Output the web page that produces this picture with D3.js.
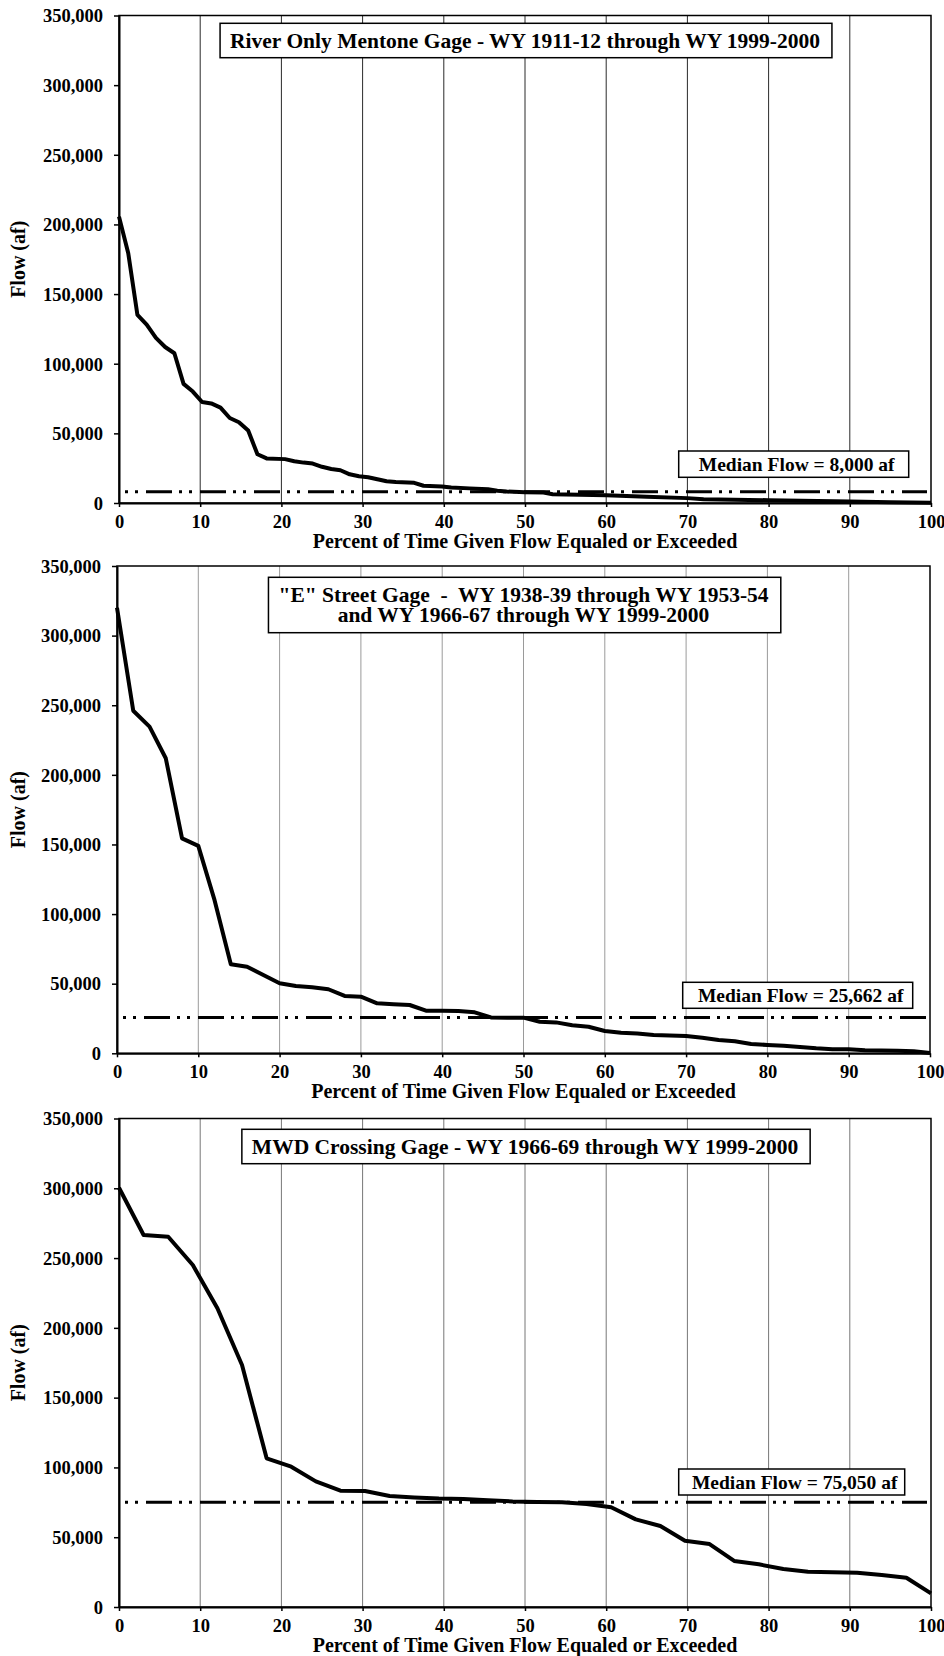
<!DOCTYPE html>
<html lang="en">
<head>
<meta charset="utf-8">
<script src="https://d3js.org/d3.v7.min.js"></script>
<style>
  body { margin: 0; background: #fff; }
  svg text { font-family: "Liberation Serif", "Times New Roman", serif; font-weight: bold; fill: #000; }
</style>
</head>
<body>
<script>
// ---- data ----

// River Only Mentone Gage
let pctMentone  = [0, 1.14, 2.27, 3.41, 4.55, 5.68, 6.82, 7.95, 9.09, 10.23, 11.36, 12.5, 13.64, 14.77, 15.91, 17.05, 18.18, 20.45, 21.59, 22.73, 23.86, 25.0, 26.14, 27.27, 28.41, 29.55, 30.68, 31.82, 32.95, 34.09, 36.36, 37.5, 39.77, 40.91, 43.18, 45.45, 46.59, 47.73, 50.0, 52.27, 53.41, 60, 65, 70, 72, 80, 90, 95, 100];
let flowMentone = [205600, 179300, 135000, 128000, 118500, 112000, 107500, 85500, 80000, 72500, 71500, 68500, 61000, 58000, 52000, 35000, 32000, 31500, 30000, 29000, 28300, 26000, 24400, 23500, 20600, 19200, 18500, 17000, 15600, 15100, 14500, 12400, 11900, 11200, 10500, 9800, 8800, 8200, 7800, 7500, 6300, 5600, 4500, 3500, 2700, 2000, 1000, 600, 100];
let medianMentone = 8000;

// "E" Street Gage
let pctEStreet  = [0, 2, 4, 6, 8, 10, 12, 14, 16, 18, 20, 22, 24, 26, 28, 30, 32, 34, 36, 38, 40, 42, 44, 46, 48, 50, 52, 54, 56, 58, 60, 62, 64, 66, 68, 70, 72, 74, 76, 78, 80, 82, 84, 86, 88, 90, 92, 94, 96, 98, 100];
let flowEStreet = [320000, 246000, 234600, 211900, 154400, 149000, 110000, 63900, 62200, 56200, 50300, 48300, 47400, 46000, 41200, 40700, 35900, 35200, 34700, 30600, 30500, 30400, 29400, 25800, 25600, 25600, 22700, 22200, 20100, 19100, 16000, 14800, 14300, 13100, 12800, 12400, 11200, 9600, 8600, 6700, 6000, 5500, 4600, 3600, 2900, 2900, 2200, 2000, 1900, 1500, 200];
let medianEStreet = 25662;

// MWD Crossing Gage
let pctMWD  = [0, 3.03, 6.06, 9.09, 12.12, 15.15, 18.18, 21.21, 24.24, 27.27, 30.30, 33.33, 36.36, 39.39, 42.42, 45.45, 48.48, 51.52, 54.55, 57.58, 60.61, 63.64, 66.67, 69.70, 72.73, 75.76, 78.79, 81.82, 84.85, 87.88, 90.91, 93.94, 96.97, 100];
let flowMWD = [300400, 266500, 265300, 245000, 214000, 173400, 106500, 100500, 90000, 83300, 83100, 79500, 78500, 77700, 77300, 76500, 75600, 75300, 75000, 73800, 71500, 62800, 58000, 47500, 45100, 33000, 30600, 27200, 25300, 24900, 24600, 22900, 21000, 9800];
let medianMWD = 75050;

let yTicks = [0, 50000, 100000, 150000, 200000, 250000, 300000, 350000];
let xTicks = [0, 10, 20, 30, 40, 50, 60, 70, 80, 90, 100];
let gridTicks = [10, 20, 30, 40, 50, 60, 70, 80, 90];

let xTitle = "Percent of Time Given Flow Equaled or Exceeded";
let yTitle = "Flow (af)";

// ---- layout ----
let W = 944, H = 1656;

let charts = [
  { pct: pctMentone, flow: flowMentone, median: medianMentone,
    title: ["River Only Mentone Gage - WY 1911-12 through WY 1999-2000"],
    medianLabel: "Median Flow = 8,000 af",
    left: 119, right: 931, top: 15.5, bottom: 503,
    titleBox: [23.3, 57.7], medBox: [678.7, 908.7, 451, 477.3], grid: "#2a2a2a" },
  { pct: pctEStreet, flow: flowEStreet, median: medianEStreet,
    title: ["\"E\" Street Gage  -  WY 1938-39 through WY 1953-54", "and WY 1966-67 through WY 1999-2000"],
    medianLabel: "Median Flow = 25,662 af",
    left: 117, right: 930, top: 566, bottom: 1053.3,
    titleBox: [577.3, 632.7], medBox: [682.7, 912.7, 982.3, 1008.3], grid: "#9a9a9a" },
  { pct: pctMWD, flow: flowMWD, median: medianMWD,
    title: ["MWD Crossing Gage - WY 1966-69 through WY 1999-2000"],
    medianLabel: "Median Flow = 75,050 af",
    left: 119, right: 931, top: 1118.5, bottom: 1607,
    titleBox: [1129.3, 1163.7], medBox: [678.7, 904.7, 1469, 1495], grid: "#777" }
];

let svg = d3.select("body").append("svg")
            .attr("width", W)
            .attr("height", H);

charts.forEach(function(c) {
  let x = d3.scaleLinear().domain([0, 100]).range([c.left, c.right]);
  let y = d3.scaleLinear().domain([0, 350000]).range([c.bottom, c.top]);
  let g = svg.append("g");

  // vertical grid
  g.selectAll("line.grid")
    .data(gridTicks)
    .join("line")
      .attr("class", "grid")
      .attr("x1", d => x(d)).attr("x2", d => x(d))
      .attr("y1", c.top).attr("y2", c.bottom)
      .attr("stroke", c.grid)
      .attr("stroke-width", 1);

  // frame (top + right)
  g.append("rect")
    .attr("x", c.left).attr("y", c.top)
    .attr("width", c.right - c.left).attr("height", c.bottom - c.top)
    .attr("fill", "none")
    .attr("stroke", "#000")
    .attr("stroke-width", 1.5);

  // axes
  let yAxis = g.append("g")
    .attr("transform", "translate(" + c.left + ",0)")
    .call(d3.axisLeft(y).tickValues(yTicks).tickFormat(d3.format(",")).tickSize(5).tickSizeOuter(0).tickPadding(11));
  let xAxis = g.append("g")
    .attr("transform", "translate(0," + c.bottom + ")")
    .call(d3.axisBottom(x).tickValues(xTicks).tickSize(4).tickSizeOuter(0).tickPadding(8));
  [yAxis, xAxis].forEach(function(a) {
    a.select(".domain").attr("stroke", "#000").attr("stroke-width", 2);
    a.selectAll(".tick line").attr("stroke", "#000").attr("stroke-width", 1.5);
    a.selectAll(".tick text").style("font-size", "18.5px").style("font-family", null);
  });
  yAxis.selectAll(".tick text").attr("dy", "0.34em");

  // axis titles
  g.append("text")
    .attr("x", (c.left + c.right) / 2)
    .attr("y", c.bottom + 45)
    .attr("text-anchor", "middle")
    .style("font-size", "20px")
    .text(xTitle);
  g.append("text")
    .attr("transform", "translate(25," + ((c.top + c.bottom) / 2) + ") rotate(-90)")
    .attr("text-anchor", "middle")
    .style("font-size", "20px")
    .text(yTitle);

  // median line
  g.append("line")
    .attr("x1", x(0)).attr("x2", x(100) - 4)
    .attr("y1", y(c.median)).attr("y2", y(c.median))
    .attr("stroke", "#000")
    .attr("stroke-width", 3)
    .attr("stroke-dasharray", "26,7,3,7,3,8")
    .attr("stroke-dashoffset", 27);

  // flow duration curve
  let pts = c.pct.map((p, i) => [p, c.flow[i]]);
  g.append("path")
    .datum(pts)
    .attr("fill", "none")
    .attr("stroke", "#000")
    .attr("stroke-width", 4)
    .attr("stroke-linejoin", "round")
    .attr("d", d3.line().x(d => x(d[0])).y(d => y(d[1])));

  // title box
  let cx = (c.left + c.right) / 2;
  let tb = g.append("g");
  let rect = tb.append("rect")
    .attr("fill", "#fff")
    .attr("stroke", "#000")
    .attr("stroke-width", 1.5);
  let n = c.title.length;
  let midY = (c.titleBox[0] + c.titleBox[1]) / 2;
  c.title.forEach(function(line, i) {
    tb.append("text")
      .attr("text-anchor", "middle")
      .attr("x", cx)
      .attr("y", midY + (i - (n - 1) / 2) * 20.5 + 7)
      .attr("xml:space", "preserve")
      .style("white-space", "pre")
      .style("font-size", "21.5px")
      .text(line);
  });
  let bb = tb.node().getBBox();
  rect.attr("x", bb.x - 10).attr("width", bb.width + 22)
      .attr("y", c.titleBox[0]).attr("height", c.titleBox[1] - c.titleBox[0]);

  // median label box
  let m = c.medBox;
  g.append("rect")
    .attr("x", m[0]).attr("y", m[2])
    .attr("width", m[1] - m[0]).attr("height", m[3] - m[2])
    .attr("fill", "#fff")
    .attr("stroke", "#000")
    .attr("stroke-width", 1.5);
  g.append("text")
    .attr("x", (m[0] + m[1]) / 2 + 3)
    .attr("y", (m[2] + m[3]) / 2 + 6.5)
    .attr("text-anchor", "middle")
    .style("font-size", "19.5px")
    .text(c.medianLabel);
});
</script>
</body>
</html>
